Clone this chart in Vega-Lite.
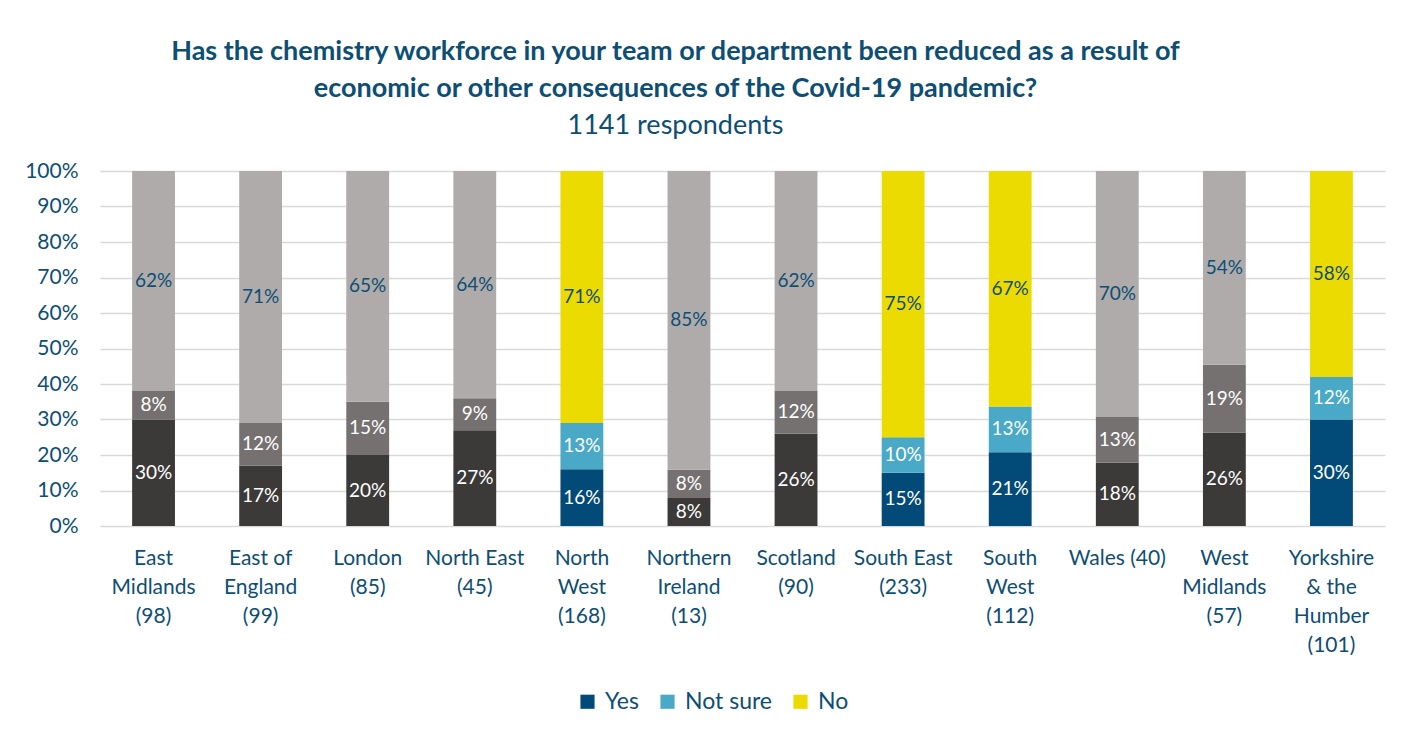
{
  "$schema": "https://vega.github.io/schema/vega-lite/v6.json",
  "autosize": "none",
  "width": 1285,
  "height": 355,
  "padding": {"left": 100, "top": 171, "right": 19, "bottom": 207},
  "background": "white",
  "config": {"font": "Lato", "view": {"stroke": null}},
  "title": {
    "text": ["Has the chemistry workforce in your team or department been reduced as a result of", "economic or other consequences of the Covid-19 pandemic?"],
    "subtitle": "1141 respondents",
    "fontSize": 27,
    "fontWeight": "bold",
    "color": "#0d4e74",
    "lineHeight": 37,
    "subtitleFontSize": 27,
    "subtitleColor": "#0d4e74",
    "subtitlePadding": 10,
    "offset": 20,
    "anchor": "middle",
    "dx": -67
  },
  "data": {
    "values": [
      {"region": "East|Midlands|(98)", "response": "Yes", "key": "Yes (other)", "value": 0.30},
      {"region": "East|Midlands|(98)", "response": "Not sure", "key": "Not sure (other)", "value": 0.08},
      {"region": "East|Midlands|(98)", "response": "No", "key": "No (other)", "value": 0.62},
      {"region": "East of|England|(99)", "response": "Yes", "key": "Yes (other)", "value": 0.17},
      {"region": "East of|England|(99)", "response": "Not sure", "key": "Not sure (other)", "value": 0.12},
      {"region": "East of|England|(99)", "response": "No", "key": "No (other)", "value": 0.71},
      {"region": "London|(85)", "response": "Yes", "key": "Yes (other)", "value": 0.20},
      {"region": "London|(85)", "response": "Not sure", "key": "Not sure (other)", "value": 0.15},
      {"region": "London|(85)", "response": "No", "key": "No (other)", "value": 0.65},
      {"region": "North East|(45)", "response": "Yes", "key": "Yes (other)", "value": 0.27},
      {"region": "North East|(45)", "response": "Not sure", "key": "Not sure (other)", "value": 0.09},
      {"region": "North East|(45)", "response": "No", "key": "No (other)", "value": 0.64},
      {"region": "North|West|(168)", "response": "Yes", "key": "Yes", "value": 0.16},
      {"region": "North|West|(168)", "response": "Not sure", "key": "Not sure", "value": 0.13},
      {"region": "North|West|(168)", "response": "No", "key": "No", "value": 0.71},
      {"region": "Northern|Ireland|(13)", "response": "Yes", "key": "Yes (other)", "value": 0.08},
      {"region": "Northern|Ireland|(13)", "response": "Not sure", "key": "Not sure (other)", "value": 0.08},
      {"region": "Northern|Ireland|(13)", "response": "No", "key": "No (other)", "value": 0.85},
      {"region": "Scotland|(90)", "response": "Yes", "key": "Yes (other)", "value": 0.26},
      {"region": "Scotland|(90)", "response": "Not sure", "key": "Not sure (other)", "value": 0.12},
      {"region": "Scotland|(90)", "response": "No", "key": "No (other)", "value": 0.62},
      {"region": "South East|(233)", "response": "Yes", "key": "Yes", "value": 0.15},
      {"region": "South East|(233)", "response": "Not sure", "key": "Not sure", "value": 0.10},
      {"region": "South East|(233)", "response": "No", "key": "No", "value": 0.75},
      {"region": "South|West|(112)", "response": "Yes", "key": "Yes", "value": 0.21},
      {"region": "South|West|(112)", "response": "Not sure", "key": "Not sure", "value": 0.13},
      {"region": "South|West|(112)", "response": "No", "key": "No", "value": 0.67},
      {"region": "Wales (40)", "response": "Yes", "key": "Yes (other)", "value": 0.18},
      {"region": "Wales (40)", "response": "Not sure", "key": "Not sure (other)", "value": 0.13},
      {"region": "Wales (40)", "response": "No", "key": "No (other)", "value": 0.70},
      {"region": "West|Midlands|(57)", "response": "Yes", "key": "Yes (other)", "value": 0.26},
      {"region": "West|Midlands|(57)", "response": "Not sure", "key": "Not sure (other)", "value": 0.19},
      {"region": "West|Midlands|(57)", "response": "No", "key": "No (other)", "value": 0.54},
      {"region": "Yorkshire|& the|Humber|(101)", "response": "Yes", "key": "Yes", "value": 0.30},
      {"region": "Yorkshire|& the|Humber|(101)", "response": "Not sure", "key": "Not sure", "value": 0.12},
      {"region": "Yorkshire|& the|Humber|(101)", "response": "No", "key": "No", "value": 0.58}
    ]
  },
  "encoding": {
    "x": {
      "field": "region",
      "type": "nominal",
      "sort": null,
      "scale": {"paddingInner": 0.6, "paddingOuter": 0.3},
      "axis": {
        "title": null,
        "labelAngle": 0,
        "labelExpr": "split(datum.value, '|')",
        "labelFontSize": 21,
        "labelColor": "#0d4e74",
        "labelLineHeight": 29,
        "labelPadding": 21,
        "labelBaseline": "top",
        "domain": false,
        "ticks": false,
        "labelLimit": 0
      }
    },
    "y": {
      "field": "value",
      "type": "quantitative",
      "stack": "normalize",
      "axis": {
        "title": null,
        "values": [0, 0.1, 0.2, 0.3, 0.4, 0.5, 0.6, 0.7, 0.8, 0.9, 1],
        "format": ".0%",
        "labelFontSize": 21,
        "labelColor": "#0d4e74",
        "labelPadding": 22,
        "domain": false,
        "ticks": false,
        "gridColor": "#d9d9d9",
        "gridWidth": 1.5
      }
    },
    "order": {"field": "response", "sort": "descending"}
  },
  "layer": [
    {
      "mark": {"type": "bar"},
      "encoding": {
        "color": {
          "field": "key",
          "type": "nominal",
          "scale": {
            "domain": ["Yes", "Not sure", "No", "Yes (other)", "Not sure (other)", "No (other)"],
            "range": ["#024a77", "#49a9c6", "#ecdb00", "#3b3a38", "#757170", "#afabaa"]
          },
          "legend": {
            "values": ["Yes", "Not sure", "No"],
            "title": null,
            "orient": "none",
            "direction": "horizontal",
            "legendX": 476,
            "legendY": 519,
            "symbolType": "square",
            "symbolSize": 200,
            "symbolStrokeWidth": 0,
            "labelFontSize": 23,
            "labelColor": "#0d4e74",
            "columnPadding": 17,
            "labelOffset": 6
          }
        }
      }
    },
    {
      "mark": {"type": "text", "fontSize": 19, "baseline": "middle"},
      "encoding": {
        "y": {"field": "value", "type": "quantitative", "stack": "normalize", "bandPosition": 0.5},
        "text": {"field": "value", "type": "quantitative", "format": ".0%"},
        "color": {
          "condition": {"test": "datum.response == 'No'", "value": "#0d4e74"},
          "value": "white"
        }
      }
    }
  ]
}
